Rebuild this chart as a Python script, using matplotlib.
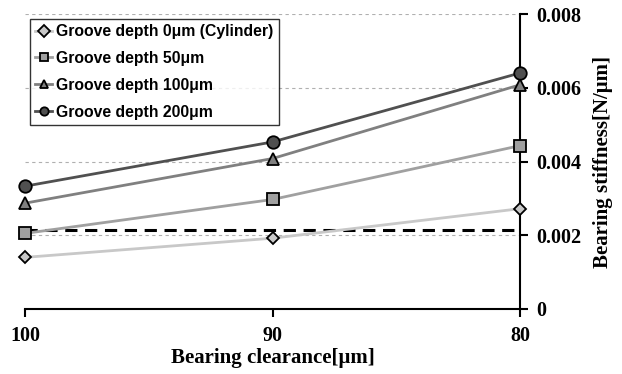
import matplotlib
matplotlib.use("Agg")
import matplotlib.pyplot as plt

clearance = [100, 90, 80]
depth_0 = [0.00140, 0.00192, 0.00272]
depth_50 = [0.00205, 0.00297, 0.00443]
depth_100 = [0.00287, 0.00408, 0.00608]
depth_200 = [0.00333, 0.00453, 0.00640]
reference_level = 0.00214
labels = ["Groove depth 0\u03bcm (Cylinder)", "Groove depth 50\u03bcm",
          "Groove depth 100\u03bcm", "Groove depth 200\u03bcm"]
yticks = [0, 0.002, 0.004, 0.006, 0.008]
ytick_labels = ["0", "0.002", "0.004", "0.006", "0.008"]

fig = plt.figure(figsize=(6.22, 3.74), dpi=100)
ax = fig.add_axes((25 / 622, 1 - 309 / 374, 495 / 622, 295 / 374))

series = [
    (depth_0, "#c8c8c8", "#c8c8c8", "D", 6),
    (depth_50, "#a0a0a0", "#a0a0a0", "s", 8),
    (depth_100, "#808080", "#808080", "^", 8),
    (depth_200, "#505050", "#505050", "o", 9),
]
for (vals, lc, fc, mk, ms), lab in zip(series, labels):
    ax.plot(clearance, vals, color=lc, lw=2, marker=mk, ms=ms,
            markerfacecolor=fc, markeredgecolor="black", markeredgewidth=1.3,
            label=lab, clip_on=False, zorder=3)

ax.axhline(reference_level, color="black", lw=2.2, ls=(0, (4, 2.5)), zorder=2)

ax.set_xlim(100, 80)
ax.set_ylim(0, 0.008)
ax.set_xticks(clearance)
ax.set_xticklabels([str(c) for c in clearance])
ax.set_yticks(yticks)
ax.set_yticklabels(ytick_labels)
for y in yticks[1:]:
    ax.axhline(y, color="#b0b0b0", lw=0.8, ls=(0, (3, 3)), zorder=1)

ax.spines["top"].set_visible(False)
ax.spines["left"].set_visible(False)
ax.spines["right"].set_linewidth(1.5)
ax.spines["bottom"].set_linewidth(1.5)
ax.yaxis.tick_right()
ax.yaxis.set_label_position("right")
ax.tick_params(axis="y", direction="out", length=6, width=1.5, pad=6)
ax.tick_params(axis="x", direction="out", length=6, width=1.5, pad=6)

serif = "Liberation Serif"
for t in ax.get_xticklabels() + ax.get_yticklabels():
    t.set_fontfamily(serif)
    t.set_fontweight("bold")
    t.set_fontsize(14.5)

ax.set_xlabel("Bearing clearance[\u03bcm]", fontfamily=serif, fontweight="bold",
              fontsize=15, labelpad=2)
ax.set_ylabel("Bearing stiffness[N/\u03bcm]", fontfamily=serif, fontweight="bold",
              fontsize=15, labelpad=8)

leg = ax.legend(loc="upper left", bbox_to_anchor=(0.0, 1.0), frameon=True,
                fancybox=False, edgecolor="black", handlelength=1.1,
                handletextpad=0.25, borderpad=0.35, labelspacing=0.75,
                borderaxespad=0.3,
                prop={"family": "Liberation Sans", "weight": "bold", "size": 11.3})
leg.get_frame().set_linewidth(1.0)
for h in leg.legend_handles:
    h.set_markersize(6)

fig.savefig("out.png", dpi=100)
